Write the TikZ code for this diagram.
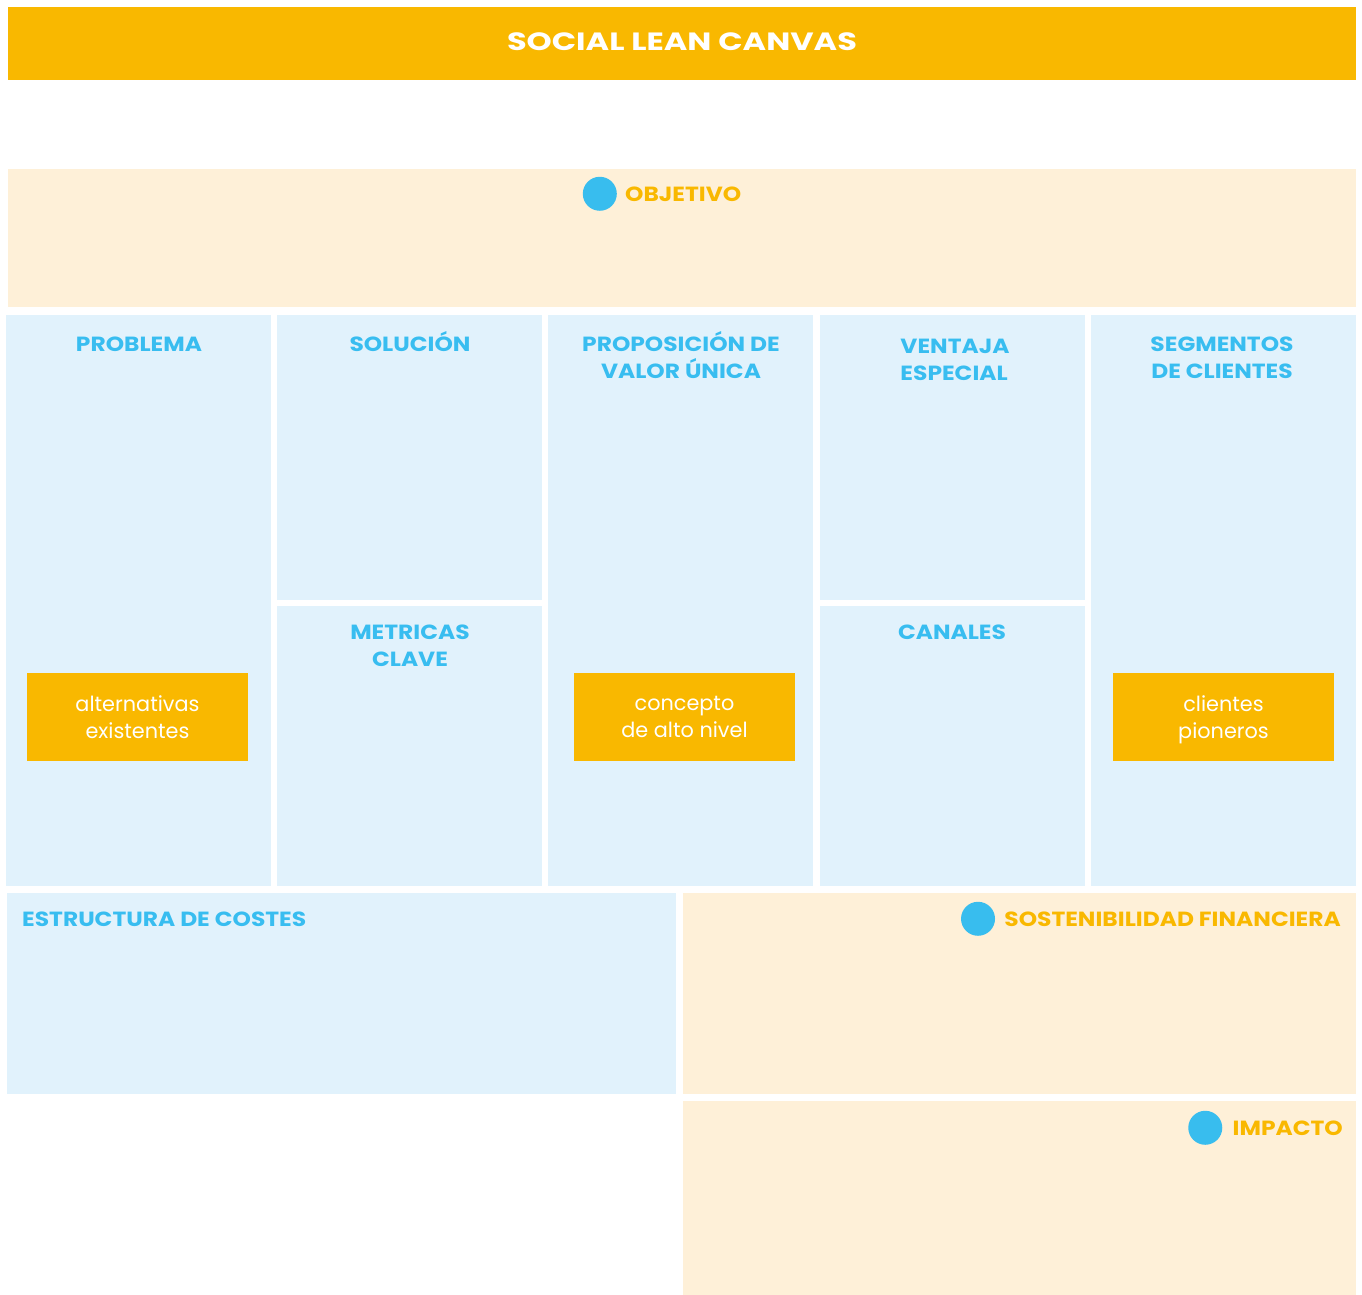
\documentclass[tikz,border=0pt]{standalone}
\usepackage{fontspec}
\setmainfont{Poppins}
\newfontfamily\anchafont{Poppins}[FakeStretch=1.14]
\newfontfamily\titulofont{Poppins}[FakeStretch=1.28]
\usetikzlibrary{positioning}

\begin{document}
\begin{tikzpicture}[x=1pt,y=1pt,yscale=-1,xscale=1,
  rotulo/.style={font=\anchafont\bfseries\fontsize{20.5}{27}\selectfont, text=myblue, align=center, anchor=base, inner sep=0pt},
  rotulonar/.style={font=\anchafont\bfseries\fontsize{20.5}{27}\selectfont, text=myorange, inner sep=0pt},
  subcaja/.style={fill=myorange, text=white, font=\fontsize{20.8}{27}\selectfont, align=center, minimum width=221pt, minimum height=88pt, inner sep=0pt, text depth=0pt},
  punto/.style={circle, fill=mydot, minimum size=34pt, inner sep=0pt}]

\definecolor{myorange}{HTML}{F9B800}
\definecolor{mycream}{HTML}{FEF0D8}
\definecolor{mylight}{HTML}{E1F2FC}
\definecolor{myblue}{HTML}{38BDF0}
\definecolor{mydot}{HTML}{38BDEE}

\useasboundingbox (0,0) rectangle (1362,1295);

% cabecera
\fill[myorange] (8,7) rectangle (1356,80);
\node[font=\titulofont\bfseries\fontsize{25}{30}\selectfont, text=white, anchor=base, inner sep=0pt] (titulo) at (682, 51) {SOCIAL LEAN CANVAS};

% objetivo
\fill[mycream] (8,169) rectangle (1356,307);
\node[rotulonar, anchor=base west] (objetivo) at (625, 201) {OBJETIVO};
\node[punto, left=8pt of objetivo] (p1) {};

% columnas
\fill[mylight] (6,315) rectangle (271,886);
\fill[mylight] (277,315) rectangle (542,600);
\fill[mylight] (277,606) rectangle (542,886);
\fill[mylight] (548,315) rectangle (813,886);
\fill[mylight] (820,315) rectangle (1085,600);
\fill[mylight] (820,606) rectangle (1085,886);
\fill[mylight] (1091,315) rectangle (1356,886);

% base = linea final
\node[rotulo] (problema) at (139, 351) {PROBLEMA};
\node[rotulo] (solucion) at (410, 351) {SOLUCIÓN};
\node[rotulo] (propuesta) at (681, 378) {PROPOSICIÓN DE\\VALOR ÚNICA};
\node[rotulo, align=left] (ventaja) at (955, 380) {VENTAJA\\ESPECIAL};
\node[rotulo] (segmentos) at (1222, 378) {SEGMENTOS\\DE CLIENTES};
\node[rotulo] (metricas) at (410, 666) {METRICAS\\CLAVE};
\node[rotulo] (canales) at (952, 639) {CANALES};

\node[subcaja] (alternativas) at (137.5, 717) {alternativas\\existentes};
\node[subcaja] (concepto) at (684.5, 717) {concepto\\de alto nivel};
\node[subcaja] (pioneros) at (1223.5, 717) {clientes\\pioneros};

% fila inferior
\fill[mylight] (7,893) rectangle (676,1094);
\fill[mycream] (683,893) rectangle (1356,1094);
\fill[mycream] (683,1101) rectangle (1356,1295);

\node[rotulo, anchor=base west] (costes) at (22, 926) {ESTRUCTURA DE COSTES};
\node[rotulonar, anchor=base east] (sostenibilidad) at (1341, 926) {SOSTENIBILIDAD FINANCIERA};
\node[punto, left=9pt of sostenibilidad] (p2) {};
\node[rotulonar, anchor=base east] (impacto) at (1343, 1135) {IMPACTO};
\node[punto, left=10pt of impacto] (p3) {};

\end{tikzpicture}
\end{document}
